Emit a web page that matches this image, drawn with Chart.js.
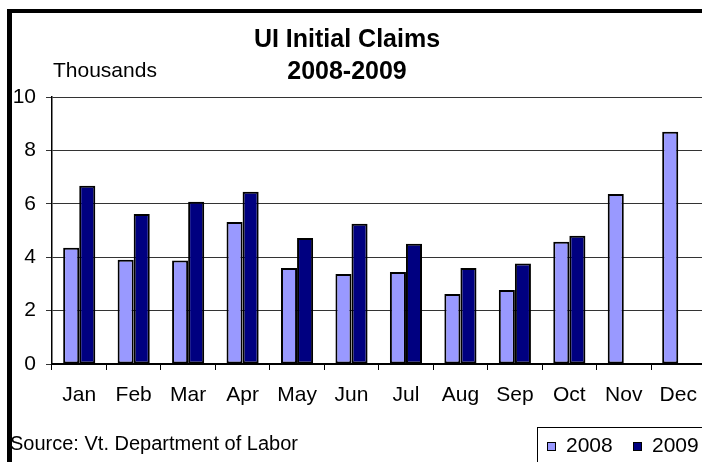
<!DOCTYPE html>
<html>
<head>
<meta charset="utf-8">
<script src="https://cdn.jsdelivr.net/npm/chart.js@4/dist/chart.umd.min.js"></script>
<style>
  html, body { margin: 0; padding: 0; background: #fff; overflow: hidden; }
  #wrap { width: 702px; height: 462px; overflow: hidden; position: relative; }
  canvas { display: block; }
</style>
</head>
<body>
<div id="wrap"><canvas id="myChart" width="710" height="462"></canvas></div>
<script>
// values, thousands of claims
var months = ["Jan", "Feb", "Mar", "Apr", "May", "Jun", "Jul", "Aug", "Sep", "Oct", "Nov", "Dec"];
var claims2008 = [4.35, 3.9, 3.88, 5.32, 3.6, 3.37, 3.45, 2.62, 2.77, 4.58, 6.37, 8.7];
var claims2009 = [6.68, 5.62, 6.08, 6.45, 4.72, 5.25, 4.5, 3.6, 3.76, 4.8, null, null];
var seriesNames = ["2008", "2009"];
var barColors = ["#9999ff", "#000080"];
var yTicks = [0, 2, 4, 6, 8, 10];

var FONT = "'Liberation Sans', Arial, sans-serif";

// frame, titles, source note and boxed legend
var decor = {
  id: "decor",
  afterDraw: function (chart) {
    var ctx = chart.ctx;
    ctx.save();
    ctx.fillStyle = "#000";
    ctx.fillRect(7, 9, 5, 460);
    ctx.fillRect(7, 9, 720, 4);

    ctx.textAlign = "center";
    ctx.textBaseline = "alphabetic";
    ctx.font = "bold 25px " + FONT;
    ctx.fillText("UI Initial Claims", 347, 47);
    ctx.fillText("2008-2009", 347, 79);

    ctx.textAlign = "left";
    ctx.font = "21px " + FONT;
    ctx.fillText("Thousands", 53, 77);
    ctx.font = "20px " + FONT;
    ctx.fillText("Source: Vt. Department of Labor", 10, 450);

    ctx.font = "21px " + FONT;
    ctx.lineWidth = 1;
    ctx.strokeStyle = "#000";
    ctx.strokeRect(537.5, 427.5, 200, 60);
    var lx = [547, 633];
    for (var i = 0; i < 2; i++) {
      ctx.fillStyle = barColors[i];
      ctx.fillRect(lx[i], 442, 9, 9);
      ctx.strokeRect(lx[i] + 0.5, 442.5, 8, 8);
      ctx.fillStyle = "#000";
      ctx.fillText(seriesNames[i], lx[i] + 19, 452);
    }
    ctx.restore();
  }
};

new Chart("myChart", {
  type: "bar",
  data: {
    labels: months,
    datasets: [
      { label: seriesNames[0], data: claims2008, backgroundColor: barColors[0] },
      { label: seriesNames[1], data: claims2009, backgroundColor: barColors[1] }
    ]
  },
  options: {
    responsive: false,
    animation: false,
    devicePixelRatio: 1,
    layout: { padding: { top: 97, left: 0, right: 2, bottom: 0 } },
    datasets: {
      bar: {
        categoryPercentage: 0.59,
        barPercentage: 1,
        borderColor: "#000",
        borderWidth: 2,
        borderSkipped: false
      }
    },
    plugins: {
      legend: { display: false },
      title: { display: false },
      tooltip: { enabled: false }
    },
    scales: {
      x: {
        offset: true,
        grid: { drawOnChartArea: false, drawTicks: true, tickLength: 6, color: "#000", offset: true },
        border: { display: true, color: "#000", width: 2 },
        ticks: { color: "#000", font: { family: FONT, size: 21 }, padding: 13, maxRotation: 0, autoSkip: false },
        afterFit: function (scale) { scale.height = 98; }
      },
      y: {
        min: 0,
        max: 10,
        afterBuildTicks: function (scale) {
          scale.ticks = yTicks.map(function (v) { return { value: v }; });
        },
        grid: { color: "#333", lineWidth: 1, tickLength: 6 },
        border: { display: true, color: "#000", width: 1.5 },
        ticks: { color: "#000", font: { family: FONT, size: 21 }, padding: 10 },
        afterFit: function (scale) { scale.width = 52; }
      }
    }
  },
  plugins: [decor]
});
</script>
</body>
</html>
